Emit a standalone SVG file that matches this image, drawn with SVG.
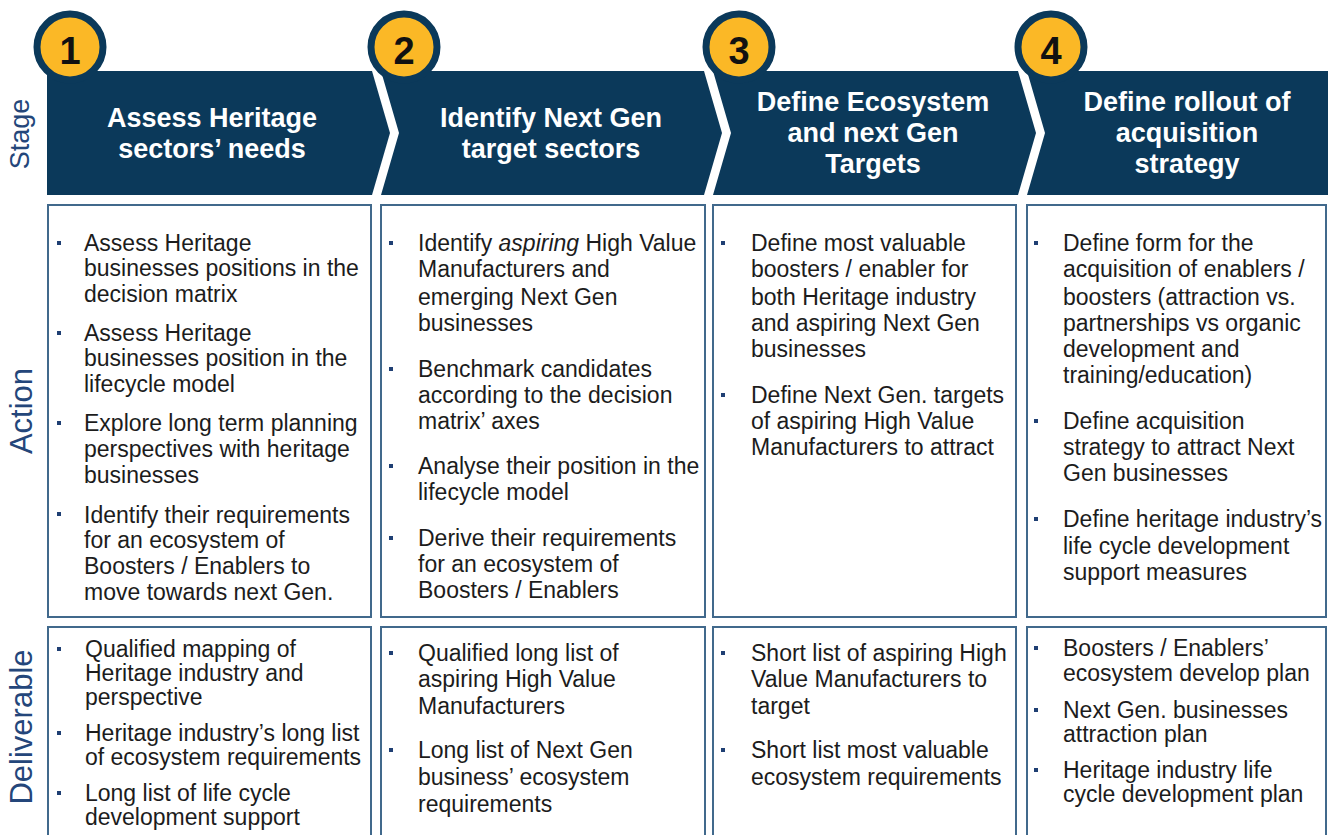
<svg xmlns="http://www.w3.org/2000/svg" width="1328" height="835" viewBox="0 0 1328 835">
  <style>
    .chev { fill: #0b395a; }
    .badge { fill: #fbb826; stroke: #0b395a; stroke-width: 7; }
    .num { font-family: "Liberation Sans", Arial, sans-serif; font-weight: bold; font-size: 38px; fill: #111; text-anchor: middle; }
    .head { font-family: "Liberation Sans", Arial, sans-serif; font-weight: bold; font-size: 27px; fill: #fff; text-anchor: middle; }
    .row { font-family: "Liberation Sans", Arial, sans-serif; fill: #24467a; text-anchor: middle; }
    .box { fill: #fff; stroke: #41698c; stroke-width: 2; }
    .txt { font-family: "Liberation Sans", Arial, sans-serif; font-size: 23px; fill: #1c1c1c; }
    .dot { fill: #1f3f73; }
  </style>
  <rect width="1328" height="835" fill="#fff"/>

  <!-- row labels -->
  <g id="labels">
    <text class="row" font-size="27" transform="translate(29,134) rotate(-90)">Stage</text>
    <text class="row" font-size="31" transform="translate(32,411) rotate(-90)">Action</text>
    <text class="row" font-size="31" transform="translate(32,727) rotate(-90)">Deliverable</text>
  </g>

  <!-- stage 1 -->
  <g id="stage1">
    <path class="chev" d="M47,71 H372 L390,133 L372,195 H47 Z"/>
    <circle class="badge" cx="70" cy="47" r="33"/>
    <text class="num" x="70" y="64">1</text>
    <text class="head" x="212" y="127">Assess Heritage</text>
    <text class="head" x="212" y="158">sectors’ needs</text>
  </g>

  <!-- stage 2 -->
  <g id="stage2">
    <path class="chev" d="M381,71 H704 L722,133 L704,195 H381 L399,133 Z"/>
    <circle class="badge" cx="404" cy="47" r="33"/>
    <text class="num" x="404" y="64">2</text>
    <text class="head" x="551" y="127">Identify Next Gen</text>
    <text class="head" x="551" y="158">target sectors</text>
  </g>

  <!-- stage 3 -->
  <g id="stage3">
    <path class="chev" d="M713,71 H1018 L1036,133 L1018,195 H713 L731,133 Z"/>
    <circle class="badge" cx="739" cy="47" r="33"/>
    <text class="num" x="739" y="64">3</text>
    <text class="head" x="873" y="111">Define Ecosystem</text>
    <text class="head" x="873" y="142">and next Gen</text>
    <text class="head" x="873" y="173">Targets</text>
  </g>

  <!-- stage 4 -->
  <g id="stage4">
    <path class="chev" d="M1027,71 H1328 V195 H1027 L1045,133 Z"/>
    <circle class="badge" cx="1051" cy="47" r="33"/>
    <text class="num" x="1051" y="64">4</text>
    <text class="head" x="1187" y="111">Define rollout of</text>
    <text class="head" x="1187" y="142">acquisition</text>
    <text class="head" x="1187" y="173">strategy</text>
  </g>

  <!-- action cells -->
  <g id="action1">
    <rect class="box" x="48" y="205" width="323" height="412"/>
    <rect class="dot" x="57" y="241" width="4" height="4"/>
    <rect class="dot" x="57" y="331" width="4" height="4"/>
    <rect class="dot" x="57" y="421" width="4" height="4"/>
    <rect class="dot" x="57" y="512" width="4" height="4"/>
    <text class="txt">
      <tspan x="84" y="251">Assess Heritage</tspan>
      <tspan x="84" y="276">businesses positions in the</tspan>
      <tspan x="84" y="302">decision matrix</tspan>
      <tspan x="84" y="341">Assess Heritage</tspan>
      <tspan x="84" y="366">businesses position in the</tspan>
      <tspan x="84" y="392">lifecycle model</tspan>
      <tspan x="84" y="431">Explore long term planning</tspan>
      <tspan x="84" y="457">perspectives with heritage</tspan>
      <tspan x="84" y="483">businesses</tspan>
      <tspan x="84" y="523">Identify their requirements</tspan>
      <tspan x="84" y="548">for an ecosystem of</tspan>
      <tspan x="84" y="574">Boosters / Enablers to</tspan>
      <tspan x="84" y="600">move towards next Gen.</tspan>
    </text>
  </g>

  <g id="action2">
    <rect class="box" x="381" y="205" width="324" height="412"/>
    <rect class="dot" x="389" y="241" width="4" height="4"/>
    <rect class="dot" x="389" y="367" width="4" height="4"/>
    <rect class="dot" x="389" y="464" width="4" height="4"/>
    <rect class="dot" x="389" y="536" width="4" height="4"/>
    <text class="txt">
      <tspan x="418" y="251">Identify <tspan font-style="italic">aspiring</tspan> High Value</tspan>
      <tspan x="418" y="277">Manufacturers and</tspan>
      <tspan x="418" y="305">emerging Next Gen</tspan>
      <tspan x="418" y="331">businesses</tspan>
      <tspan x="418" y="377">Benchmark candidates</tspan>
      <tspan x="418" y="403">according to the decision</tspan>
      <tspan x="418" y="429">matrix’ axes</tspan>
      <tspan x="418" y="474">Analyse their position in the</tspan>
      <tspan x="418" y="500">lifecycle model</tspan>
      <tspan x="418" y="546">Derive their requirements</tspan>
      <tspan x="418" y="572">for an ecosystem of</tspan>
      <tspan x="418" y="598">Boosters / Enablers</tspan>
    </text>
  </g>

  <g id="action3">
    <rect class="box" x="713" y="205" width="303" height="412"/>
    <rect class="dot" x="721" y="241" width="4" height="4"/>
    <rect class="dot" x="721" y="393" width="4" height="4"/>
    <text class="txt">
      <tspan x="751" y="251">Define most valuable</tspan>
      <tspan x="751" y="277">boosters / enabler for</tspan>
      <tspan x="751" y="305">both Heritage industry</tspan>
      <tspan x="751" y="331">and aspiring Next Gen</tspan>
      <tspan x="751" y="357">businesses</tspan>
      <tspan x="751" y="403">Define Next Gen. targets</tspan>
      <tspan x="751" y="429">of aspiring High Value</tspan>
      <tspan x="751" y="455">Manufacturers to attract</tspan>
    </text>
  </g>

  <g id="action4">
    <rect class="box" x="1027" y="205" width="299" height="412"/>
    <rect class="dot" x="1034" y="241" width="4" height="4"/>
    <rect class="dot" x="1034" y="419" width="4" height="4"/>
    <rect class="dot" x="1034" y="517" width="4" height="4"/>
    <text class="txt">
      <tspan x="1063" y="251">Define form for the</tspan>
      <tspan x="1063" y="277">acquisition of enablers /</tspan>
      <tspan x="1063" y="305">boosters (attraction vs.</tspan>
      <tspan x="1063" y="331">partnerships vs organic</tspan>
      <tspan x="1063" y="357">development and</tspan>
      <tspan x="1063" y="383">training/education)</tspan>
      <tspan x="1063" y="429">Define acquisition</tspan>
      <tspan x="1063" y="455">strategy to attract Next</tspan>
      <tspan x="1063" y="481">Gen businesses</tspan>
      <tspan x="1063" y="527">Define heritage industry’s</tspan>
      <tspan x="1063" y="554">life cycle development</tspan>
      <tspan x="1063" y="580">support measures</tspan>
    </text>
  </g>

  <!-- deliverable cells -->
  <g id="deliverable1">
    <rect class="box" x="48" y="627" width="323" height="220"/>
    <rect class="dot" x="57" y="647" width="4" height="4"/>
    <rect class="dot" x="57" y="731" width="4" height="4"/>
    <rect class="dot" x="57" y="791" width="4" height="4"/>
    <text class="txt">
      <tspan x="85" y="657">Qualified mapping of</tspan>
      <tspan x="85" y="681">Heritage industry and</tspan>
      <tspan x="85" y="705">perspective</tspan>
      <tspan x="85" y="741">Heritage industry’s long list</tspan>
      <tspan x="85" y="765">of ecosystem requirements</tspan>
      <tspan x="85" y="801">Long list of life cycle</tspan>
      <tspan x="85" y="825">development support</tspan>
    </text>
  </g>

  <g id="deliverable2">
    <rect class="box" x="381" y="627" width="324" height="220"/>
    <rect class="dot" x="389" y="651" width="4" height="4"/>
    <rect class="dot" x="389" y="748" width="4" height="4"/>
    <text class="txt">
      <tspan x="418" y="661">Qualified long list of</tspan>
      <tspan x="418" y="687">aspiring High Value</tspan>
      <tspan x="418" y="714">Manufacturers</tspan>
      <tspan x="418" y="758">Long list of Next Gen</tspan>
      <tspan x="418" y="785">business’ ecosystem</tspan>
      <tspan x="418" y="812">requirements</tspan>
    </text>
  </g>

  <g id="deliverable3">
    <rect class="box" x="713" y="627" width="303" height="220"/>
    <rect class="dot" x="721" y="651" width="4" height="4"/>
    <rect class="dot" x="721" y="748" width="4" height="4"/>
    <text class="txt">
      <tspan x="751" y="661">Short list of aspiring High</tspan>
      <tspan x="751" y="687">Value Manufacturers to</tspan>
      <tspan x="751" y="714">target</tspan>
      <tspan x="751" y="758">Short list most valuable</tspan>
      <tspan x="751" y="785">ecosystem requirements</tspan>
    </text>
  </g>

  <g id="deliverable4">
    <rect class="box" x="1027" y="627" width="299" height="220"/>
    <rect class="dot" x="1034" y="646" width="4" height="4"/>
    <rect class="dot" x="1034" y="708" width="4" height="4"/>
    <rect class="dot" x="1034" y="768" width="4" height="4"/>
    <text class="txt">
      <tspan x="1063" y="656">Boosters / Enablers’</tspan>
      <tspan x="1063" y="681">ecosystem develop plan</tspan>
      <tspan x="1063" y="718">Next Gen. businesses</tspan>
      <tspan x="1063" y="742">attraction plan</tspan>
      <tspan x="1063" y="778">Heritage industry life</tspan>
      <tspan x="1063" y="802">cycle development plan</tspan>
    </text>
  </g>

  <!-- the stages are linked by the chevron shapes themselves; no separate connectors -->
  <g id="connectors"/>
</svg>
